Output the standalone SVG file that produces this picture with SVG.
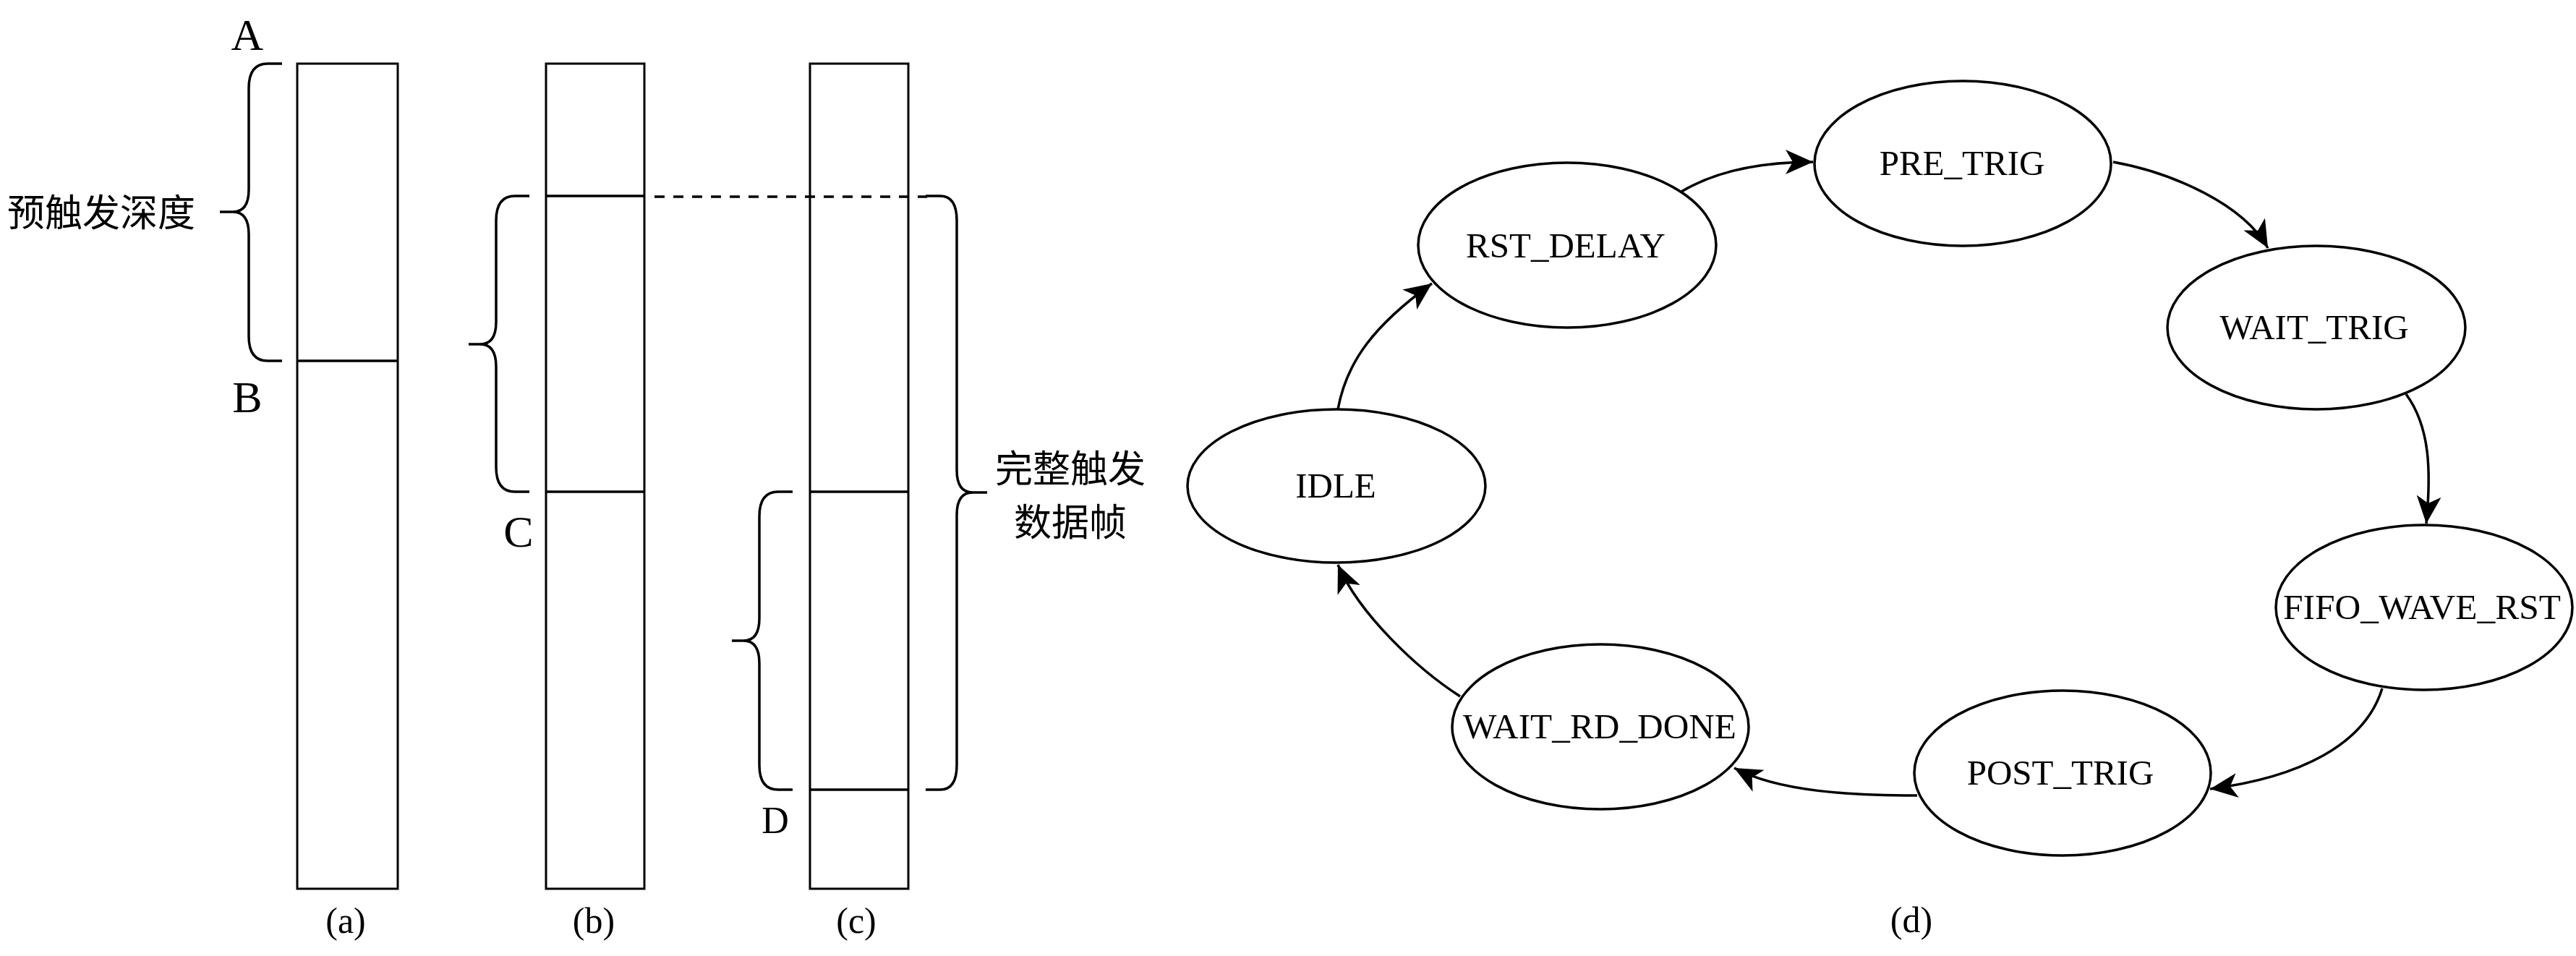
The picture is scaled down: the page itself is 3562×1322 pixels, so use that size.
<svg xmlns="http://www.w3.org/2000/svg" width="3562" height="1322" viewBox="0 0 3562 1322">
<style>
.box{fill:none;stroke:#000;stroke-width:3}
.div{stroke:#000;stroke-width:3.5}
.brace{fill:none;stroke:#000;stroke-width:3.5;stroke-linejoin:round}
.lbl{font-family:"Liberation Serif","Times New Roman",serif;fill:#000}
.cjk{font-family:"Noto Sans CJK SC","Noto Sans",sans-serif;fill:#000;font-size:52px}
.node ellipse{fill:#fff;stroke:#000;stroke-width:3.5}
.node text{font-family:"Liberation Serif","Times New Roman",serif;font-size:49px;text-anchor:middle;fill:#000}
.edge{fill:none;stroke:#000;stroke-width:3.5}
</style>
<defs>
<marker id="arr" markerUnits="userSpaceOnUse" markerWidth="44" markerHeight="38" refX="38" refY="17" orient="auto">
<path d="M0,0 L38,17 L0,34 L10,17 Z" fill="#000"/>
</marker>
</defs>
<rect width="3562" height="1322" fill="#fff"/>

<g id="col-a">
<rect class="box" x="411" y="88" width="139" height="1141"/>
<line class="div" x1="411" y1="499" x2="550" y2="499"/>
<path class="brace" d="M390,88 H370 C352,88 344,100 344,122 V262 C344,283 336,293 322,293 H304 M322,293 C336,293 344,303 344,324 V465 C344,487 352,499 370,499 H390"/>
<text class="lbl" x="342" y="69" font-size="62" text-anchor="middle">A</text>
<text class="lbl" x="342" y="570" font-size="62" text-anchor="middle">B</text>
<text class="cjk" x="10" y="313" font-size="54">预触发深度</text>
<text class="lbl" x="478" y="1290" font-size="50" text-anchor="middle">(a)</text>
</g>

<g id="col-b">
<rect class="box" x="755" y="88" width="136" height="1141"/>
<line class="div" x1="755" y1="271" x2="891" y2="271"/>
<line class="div" x1="755" y1="680" x2="891" y2="680"/>
<path class="brace" d="M732,271 H712 C694,271 686,283 686,305 V445 C686,466 678,476 664,476 H648 M664,476 C678,476 686,486 686,507 V646 C686,668 694,680 712,680 H732"/>
<text class="lbl" x="717" y="756" font-size="62" text-anchor="middle">C</text>
<text class="lbl" x="821" y="1290" font-size="50" text-anchor="middle">(b)</text>
</g>

<g id="col-c">
<rect class="box" x="1120" y="88" width="136" height="1141"/>
<line class="div" x1="1120" y1="680" x2="1256" y2="680"/>
<line class="div" x1="1120" y1="1092" x2="1256" y2="1092" stroke-width="4.5"/>
<path class="brace" d="M1096,680 H1076 C1058,680 1050,692 1050,714 V855 C1050,876 1042,886 1028,886 H1012 M1028,886 C1042,886 1050,896 1050,917 V1058 C1050,1080 1058,1092 1076,1092 H1096"/>
<path class="brace" d="M1280,271 H1300 C1316,271 1323,283 1323,305 V650 C1323,671 1331,681 1345,681 H1365 M1345,681 C1331,681 1323,691 1323,712 V1058 C1323,1080 1316,1092 1300,1092 H1280"/>
<text class="lbl" x="1072" y="1152" font-size="52" text-anchor="middle">D</text>
<text class="cjk" x="1480" y="667" text-anchor="middle">完整触发</text>
<text class="cjk" x="1480" y="741" text-anchor="middle">数据帧</text>
<text class="lbl" x="1184" y="1290" font-size="50" text-anchor="middle">(c)</text>
</g>

<g id="dashed-link">
<line x1="905" y1="272" x2="1282" y2="272" stroke="#000" stroke-width="3.5" stroke-dasharray="14 12"/>
</g>

<g id="n-idle" class="node"><ellipse cx="1848" cy="672" rx="206" ry="106"/><text x="1847" y="688">IDLE</text></g>
<g id="n-rst-delay" class="node"><ellipse cx="2167" cy="339" rx="206" ry="114"/><text x="2165" y="356">RST_DELAY</text></g>
<g id="n-pre-trig" class="node"><ellipse cx="2714" cy="226" rx="205" ry="114"/><text x="2713" y="242">PRE_TRIG</text></g>
<g id="n-wait-trig" class="node"><ellipse cx="3203" cy="453" rx="206" ry="113"/><text x="3200" y="469">WAIT_TRIG</text></g>
<g id="n-fifo-wave-rst" class="node"><ellipse cx="3352" cy="840" rx="205" ry="114"/><text x="3349" y="856" textLength="384" lengthAdjust="spacingAndGlyphs">FIFO_WAVE_RST</text></g>
<g id="n-post-trig" class="node"><ellipse cx="2852" cy="1069" rx="205" ry="114"/><text x="2849" y="1085">POST_TRIG</text></g>
<g id="n-wait-rd-done" class="node"><ellipse cx="2213" cy="1005" rx="205" ry="114"/><text x="2212" y="1021" textLength="378" lengthAdjust="spacingAndGlyphs">WAIT_RD_DONE</text></g>

<g id="connectors">
<path class="edge" marker-end="url(#arr)" d="M1850,566 C1862,500 1900,450 1980,392"/>
<path class="edge" marker-end="url(#arr)" d="M2325,265 C2370,238 2430,224 2507,224"/>
<path class="edge" marker-end="url(#arr)" d="M2922,224 C3000,238 3100,280 3136,343"/>
<path class="edge" marker-end="url(#arr)" d="M3327,545 C3360,590 3362,650 3355,724"/>
<path class="edge" marker-end="url(#arr)" d="M3294,952 C3270,1030 3180,1075 3056,1091"/>
<path class="edge" marker-end="url(#arr)" d="M2651,1100 C2560,1100 2460,1095 2398,1062"/>
<path class="edge" marker-end="url(#arr)" d="M2019,963 C1960,925 1880,850 1850,781"/>
</g>

<text class="lbl" x="2643" y="1289" font-size="50" text-anchor="middle">(d)</text>
</svg>
